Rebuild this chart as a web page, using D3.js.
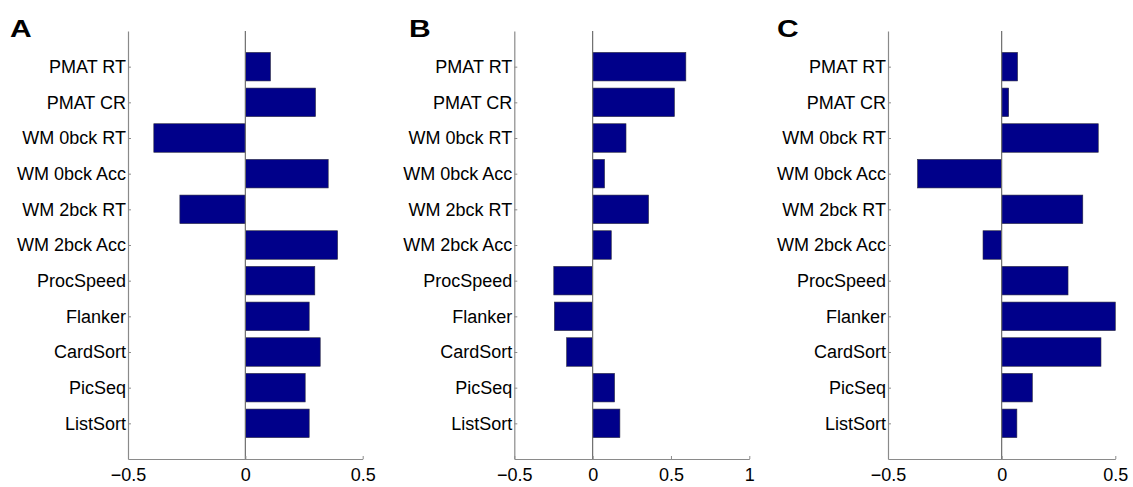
<!DOCTYPE html>
<html><head><meta charset="utf-8">
<script src="https://cdn.jsdelivr.net/npm/d3@7"></script>
<style>
html,body{margin:0;padding:0;background:#fff;}
svg{display:block;font-family:"Liberation Sans",Arial,Helvetica,sans-serif;}
</style></head>
<body>
<svg id="chart" width="1133" height="487"></svg>
<script>
const categories = ["PMAT RT","PMAT CR","WM 0bck RT","WM 0bck Acc","WM 2bck RT","WM 2bck Acc","ProcSpeed","Flanker","CardSort","PicSeq","ListSort"];
const valuesA = [0.107, 0.299, -0.390, 0.353, -0.279, 0.393, 0.296, 0.272, 0.319, 0.255, 0.272];
const valuesB = [0.595, 0.522, 0.213, 0.076, 0.357, 0.119, -0.248, -0.244, -0.166, 0.140, 0.174];
const valuesC = [0.070, 0.031, 0.425, -0.370, 0.357, -0.082, 0.292, 0.500, 0.437, 0.135, 0.067];
const xTicksA = [-0.5, 0, 0.5];
const xTicksB = [-0.5, 0, 0.5, 1];
const xTicksC = [-0.5, 0, 0.5];
const panelLetters = ["A","B","C"];

const panels = [
  {letter: panelLetters[0], values: valuesA, ticks: xTicksA, domain: [-0.5, 0.5], x0: 128, x1: 362.7, lx: 10},
  {letter: panelLetters[1], values: valuesB, ticks: xTicksB, domain: [-0.5, 1], x0: 514.3, x1: 749.3, lx: 409},
  {letter: panelLetters[2], values: valuesC, ticks: xTicksC, domain: [-0.5, 0.5], x0: 888, x1: 1115.3, lx: 777}
];

const svg = d3.select("#chart");
const yTop = 31, yBot = 459;
const y = d3.scaleLinear().domain([0, 12]).range([yTop, yBot]);
const barH = y(0.8) - y(0);
const axisColor = "#8a8a8a";
const fmt = d => d === 0 ? "0" : d3.format("")(d);
const FONT = '"Liberation Sans",Arial,Helvetica,sans-serif';

panels.forEach(p => {
  const x = d3.scaleLinear().domain(p.domain).range([p.x0, p.x1]);
  const g = svg.append("g");

  g.selectAll("rect.bar").data(p.values).join("rect")
    .attr("class", "bar")
    .attr("x", d => x(Math.min(0, d)))
    .attr("width", d => Math.abs(x(d) - x(0)))
    .attr("y", (d, i) => y(i + 1) - barH / 2)
    .attr("height", barH)
    .attr("fill", "#00008a")
    .attr("stroke", "#2a2a40")
    .attr("stroke-width", 0.6);

  g.append("line")
    .attr("x1", x(0)).attr("x2", x(0))
    .attr("y1", yTop).attr("y2", yBot)
    .attr("stroke", "#6e6e6e").attr("stroke-width", 1.2);

  const yAxis = d3.axisLeft(y)
    .tickValues(d3.range(1, 12))
    .tickFormat(d => categories[d - 1])
    .tickSizeInner(-3).tickSizeOuter(0).tickPadding(2);
  const ya = g.append("g").attr("transform", `translate(${p.x0},0)`).call(yAxis);
  ya.selectAll("text").attr("font-size", 18).attr("fill", "#000").attr("font-family", FONT);

  const xAxis = d3.axisBottom(x)
    .tickValues(p.ticks).tickFormat(fmt)
    .tickSizeInner(-3).tickSizeOuter(0).tickPadding(9);
  const xa = g.append("g").attr("transform", `translate(0,${yBot})`).call(xAxis);
  xa.selectAll("text").attr("font-size", 18).attr("fill", "#000").attr("font-family", FONT);

  [ya, xa].forEach(a => {
    a.select(".domain").attr("stroke", axisColor).attr("stroke-width", 1.2);
    a.selectAll(".tick line").attr("stroke", axisColor);
  });

  svg.append("text")
    .attr("transform", `translate(${p.lx},37.3) scale(1.25,1)`)
    .attr("font-size", 24).attr("font-weight", "bold")
    .attr("fill", "#000")
    .text(p.letter);
});
</script>
</body></html>
